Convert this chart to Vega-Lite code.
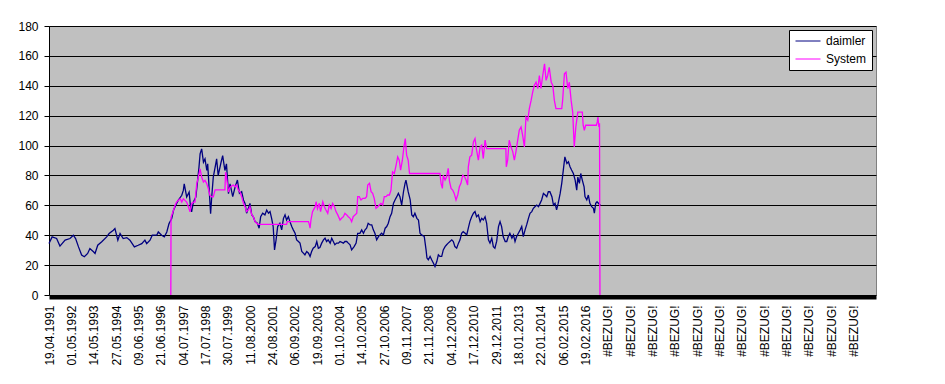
{
  "$schema": "https://vega.github.io/schema/vega-lite/v6.json",
  "width": 827,
  "height": 269,
  "autosize": {"type": "none"},
  "padding": {"left": 49, "top": 26, "right": 69, "bottom": 89},
  "background": "white",
  "config": {
    "view": {"fill": "#C0C0C0", "stroke": "#808080", "strokeWidth": 1},
    "font": "Liberation Sans",
    "axis": {"labelFont": "Liberation Sans", "labelFontSize": 12, "labelColor": "black", "domainColor": "black", "tickColor": "black", "gridColor": "black", "gridOpacity": 1, "domainOpacity": 1, "tickOpacity": 1}
  },
  "datasets": {
    "d": [
      {"s":"daimler","t":0,"v":34.4},{"s":"daimler","t":0.14,"v":38.9},{"s":"daimler","t":0.34,"v":37.8},{"s":"daimler","t":0.49,"v":32.7},{"s":"daimler","t":0.72,"v":36.7},{"s":"daimler","t":0.94,"v":37.8},{"s":"daimler","t":1.09,"v":40},{"s":"daimler","t":1.19,"v":37.8},{"s":"daimler","t":1.32,"v":32.2},{"s":"daimler","t":1.46,"v":26.7},{"s":"daimler","t":1.58,"v":25.6},{"s":"daimler","t":1.73,"v":27.8},{"s":"daimler","t":1.83,"v":31.1},{"s":"daimler","t":1.99,"v":28.9},{"s":"daimler","t":2.06,"v":27.8},{"s":"daimler","t":2.18,"v":33.3},{"s":"daimler","t":2.36,"v":35.6},{"s":"daimler","t":2.58,"v":38.9},{"s":"daimler","t":2.69,"v":41.1},{"s":"daimler","t":2.88,"v":43.3},{"s":"daimler","t":2.95,"v":44.4},{"s":"daimler","t":3.08,"v":36.7},{"s":"daimler","t":3.18,"v":41.1},{"s":"daimler","t":3.32,"v":37.8},{"s":"daimler","t":3.48,"v":38.4},{"s":"daimler","t":3.62,"v":36.7},{"s":"daimler","t":3.82,"v":32.2},{"s":"daimler","t":3.99,"v":33.3},{"s":"daimler","t":4.15,"v":34.4},{"s":"daimler","t":4.29,"v":36.7},{"s":"daimler","t":4.37,"v":34.4},{"s":"daimler","t":4.52,"v":36.7},{"s":"daimler","t":4.62,"v":40},{"s":"daimler","t":4.82,"v":40},{"s":"daimler","t":4.89,"v":42.2},{"s":"daimler","t":5.04,"v":40},{"s":"daimler","t":5.16,"v":38.9},{"s":"daimler","t":5.27,"v":42.2},{"s":"daimler","t":5.37,"v":47.8},{"s":"daimler","t":5.49,"v":51.1},{"s":"daimler","t":5.57,"v":56.7},{"s":"daimler","t":5.67,"v":60},{"s":"daimler","t":5.78,"v":63.3},{"s":"daimler","t":5.94,"v":66.7},{"s":"daimler","t":6.01,"v":70},{"s":"daimler","t":6.05,"v":74.4},{"s":"daimler","t":6.16,"v":65.6},{"s":"daimler","t":6.27,"v":68.9},{"s":"daimler","t":6.34,"v":57.8},{"s":"daimler","t":6.38,"v":55.6},{"s":"daimler","t":6.46,"v":62.2},{"s":"daimler","t":6.57,"v":65.6},{"s":"daimler","t":6.65,"v":76.7},{"s":"daimler","t":6.71,"v":85.6},{"s":"daimler","t":6.76,"v":94.4},{"s":"daimler","t":6.83,"v":97.8},{"s":"daimler","t":6.91,"v":88.9},{"s":"daimler","t":6.98,"v":91.1},{"s":"daimler","t":7.06,"v":83.3},{"s":"daimler","t":7.10,"v":87.8},{"s":"daimler","t":7.16,"v":72.2},{"s":"daimler","t":7.23,"v":54.4},{"s":"daimler","t":7.28,"v":65.6},{"s":"daimler","t":7.35,"v":78.9},{"s":"daimler","t":7.46,"v":87.8},{"s":"daimler","t":7.50,"v":91.1},{"s":"daimler","t":7.57,"v":80},{"s":"daimler","t":7.70,"v":88.9},{"s":"daimler","t":7.77,"v":93.3},{"s":"daimler","t":7.87,"v":83.3},{"s":"daimler","t":7.94,"v":87.8},{"s":"daimler","t":8.03,"v":67.8},{"s":"daimler","t":8.10,"v":74.4},{"s":"daimler","t":8.22,"v":65.8},{"s":"daimler","t":8.33,"v":72.4},{"s":"daimler","t":8.43,"v":76.9},{"s":"daimler","t":8.52,"v":68},{"s":"daimler","t":8.62,"v":69.1},{"s":"daimler","t":8.70,"v":63.6},{"s":"daimler","t":8.77,"v":61.3},{"s":"daimler","t":8.84,"v":54.7},{"s":"daimler","t":8.92,"v":58},{"s":"daimler","t":8.99,"v":61.3},{"s":"daimler","t":9.07,"v":53.6},{"s":"daimler","t":9.14,"v":52.4},{"s":"daimler","t":9.22,"v":49.1},{"s":"daimler","t":9.32,"v":48},{"s":"daimler","t":9.40,"v":44.7},{"s":"daimler","t":9.47,"v":52.4},{"s":"daimler","t":9.56,"v":54.7},{"s":"daimler","t":9.66,"v":53.6},{"s":"daimler","t":9.74,"v":56.9},{"s":"daimler","t":9.82,"v":54.7},{"s":"daimler","t":9.89,"v":55.8},{"s":"daimler","t":9.96,"v":51.3},{"s":"daimler","t":10.03,"v":45.8},{"s":"daimler","t":10.09,"v":30.2},{"s":"daimler","t":10.16,"v":36.9},{"s":"daimler","t":10.23,"v":45.8},{"s":"daimler","t":10.33,"v":48},{"s":"daimler","t":10.41,"v":43.6},{"s":"daimler","t":10.49,"v":51.3},{"s":"daimler","t":10.56,"v":53.6},{"s":"daimler","t":10.63,"v":50.2},{"s":"daimler","t":10.71,"v":52.4},{"s":"daimler","t":10.78,"v":49.1},{"s":"daimler","t":10.86,"v":45.8},{"s":"daimler","t":10.93,"v":43.6},{"s":"daimler","t":11.01,"v":41.3},{"s":"daimler","t":11.08,"v":36.9},{"s":"daimler","t":11.16,"v":35.8},{"s":"daimler","t":11.23,"v":34.7},{"s":"daimler","t":11.31,"v":29.1},{"s":"daimler","t":11.38,"v":28},{"s":"daimler","t":11.45,"v":26.9},{"s":"daimler","t":11.53,"v":29.1},{"s":"daimler","t":11.61,"v":28},{"s":"daimler","t":11.68,"v":25.8},{"s":"daimler","t":11.75,"v":29.1},{"s":"daimler","t":11.82,"v":31.3},{"s":"daimler","t":11.91,"v":32.4},{"s":"daimler","t":11.98,"v":35.8},{"s":"daimler","t":12.05,"v":31.3},{"s":"daimler","t":12.12,"v":31.8},{"s":"daimler","t":12.20,"v":34.7},{"s":"daimler","t":12.28,"v":36.9},{"s":"daimler","t":12.35,"v":38},{"s":"daimler","t":12.42,"v":35.8},{"s":"daimler","t":12.49,"v":36.9},{"s":"daimler","t":12.58,"v":34.7},{"s":"daimler","t":12.65,"v":38},{"s":"daimler","t":12.72,"v":35.8},{"s":"daimler","t":12.79,"v":33.6},{"s":"daimler","t":12.87,"v":34.7},{"s":"daimler","t":12.95,"v":34.7},{"s":"daimler","t":13.02,"v":35.8},{"s":"daimler","t":13.17,"v":34.7},{"s":"daimler","t":13.24,"v":35.8},{"s":"daimler","t":13.32,"v":35.8},{"s":"daimler","t":13.39,"v":34.7},{"s":"daimler","t":13.47,"v":33.6},{"s":"daimler","t":13.54,"v":30.2},{"s":"daimler","t":13.65,"v":32.4},{"s":"daimler","t":13.74,"v":34.7},{"s":"daimler","t":13.81,"v":41.3},{"s":"daimler","t":13.91,"v":41.3},{"s":"daimler","t":13.99,"v":43.6},{"s":"daimler","t":14.07,"v":41.3},{"s":"daimler","t":14.14,"v":43.6},{"s":"daimler","t":14.21,"v":44.7},{"s":"daimler","t":14.28,"v":48},{"s":"daimler","t":14.37,"v":46.9},{"s":"daimler","t":14.44,"v":46.9},{"s":"daimler","t":14.51,"v":43.6},{"s":"daimler","t":14.58,"v":41.3},{"s":"daimler","t":14.66,"v":36.9},{"s":"daimler","t":14.74,"v":39.1},{"s":"daimler","t":14.81,"v":40.2},{"s":"daimler","t":14.88,"v":41.3},{"s":"daimler","t":14.96,"v":40.2},{"s":"daimler","t":15.04,"v":44.7},{"s":"daimler","t":15.11,"v":45.8},{"s":"daimler","t":15.18,"v":48},{"s":"daimler","t":15.26,"v":52.4},{"s":"daimler","t":15.33,"v":54.7},{"s":"daimler","t":15.41,"v":61.3},{"s":"daimler","t":15.48,"v":63.6},{"s":"daimler","t":15.56,"v":65.8},{"s":"daimler","t":15.63,"v":68},{"s":"daimler","t":15.70,"v":65.8},{"s":"daimler","t":15.78,"v":60.2},{"s":"daimler","t":15.86,"v":69.1},{"s":"daimler","t":15.93,"v":74.7},{"s":"daimler","t":15.97,"v":76.9},{"s":"daimler","t":16.03,"v":72.4},{"s":"daimler","t":16.07,"v":69.1},{"s":"daimler","t":16.16,"v":63.6},{"s":"daimler","t":16.23,"v":53.6},{"s":"daimler","t":16.30,"v":52.4},{"s":"daimler","t":16.37,"v":54.7},{"s":"daimler","t":16.46,"v":51.3},{"s":"daimler","t":16.53,"v":50.2},{"s":"daimler","t":16.60,"v":41.3},{"s":"daimler","t":16.67,"v":40.2},{"s":"daimler","t":16.79,"v":39.1},{"s":"daimler","t":16.87,"v":30.2},{"s":"daimler","t":16.91,"v":24.7},{"s":"daimler","t":16.97,"v":23.6},{"s":"daimler","t":17.05,"v":25.8},{"s":"daimler","t":17.12,"v":23.6},{"s":"daimler","t":17.20,"v":21.3},{"s":"daimler","t":17.27,"v":19.1},{"s":"daimler","t":17.35,"v":22.4},{"s":"daimler","t":17.42,"v":26.9},{"s":"daimler","t":17.49,"v":25.8},{"s":"daimler","t":17.57,"v":25.8},{"s":"daimler","t":17.64,"v":30.2},{"s":"daimler","t":17.72,"v":32.4},{"s":"daimler","t":17.79,"v":33.6},{"s":"daimler","t":17.86,"v":34.7},{"s":"daimler","t":17.94,"v":35.8},{"s":"daimler","t":18.02,"v":36.9},{"s":"daimler","t":18.09,"v":35.8},{"s":"daimler","t":18.16,"v":32.4},{"s":"daimler","t":18.24,"v":31.3},{"s":"daimler","t":18.32,"v":34.7},{"s":"daimler","t":18.39,"v":36.9},{"s":"daimler","t":18.46,"v":41.3},{"s":"daimler","t":18.53,"v":42.4},{"s":"daimler","t":18.62,"v":41.3},{"s":"daimler","t":18.69,"v":40.2},{"s":"daimler","t":18.76,"v":44.7},{"s":"daimler","t":18.83,"v":49.1},{"s":"daimler","t":18.91,"v":52.4},{"s":"daimler","t":18.99,"v":54.7},{"s":"daimler","t":19.06,"v":55.8},{"s":"daimler","t":19.13,"v":52.4},{"s":"daimler","t":19.21,"v":53.6},{"s":"daimler","t":19.29,"v":49.1},{"s":"daimler","t":19.36,"v":51.3},{"s":"daimler","t":19.43,"v":50.2},{"s":"daimler","t":19.51,"v":52.4},{"s":"daimler","t":19.58,"v":48},{"s":"daimler","t":19.66,"v":36.9},{"s":"daimler","t":19.73,"v":34.7},{"s":"daimler","t":19.81,"v":38},{"s":"daimler","t":19.88,"v":32.4},{"s":"daimler","t":19.95,"v":31.3},{"s":"daimler","t":20.03,"v":36},{"s":"daimler","t":20.11,"v":45.8},{"s":"daimler","t":20.18,"v":49.1},{"s":"daimler","t":20.25,"v":45.8},{"s":"daimler","t":20.32,"v":39.1},{"s":"daimler","t":20.41,"v":35.8},{"s":"daimler","t":20.48,"v":35.8},{"s":"daimler","t":20.55,"v":39.1},{"s":"daimler","t":20.62,"v":41.3},{"s":"daimler","t":20.71,"v":38},{"s":"daimler","t":20.78,"v":40.2},{"s":"daimler","t":20.85,"v":35.8},{"s":"daimler","t":20.92,"v":39.1},{"s":"daimler","t":21.00,"v":41.3},{"s":"daimler","t":21.08,"v":43.6},{"s":"daimler","t":21.15,"v":45.8},{"s":"daimler","t":21.22,"v":39.1},{"s":"daimler","t":21.30,"v":43.6},{"s":"daimler","t":21.37,"v":46.9},{"s":"daimler","t":21.45,"v":51.3},{"s":"daimler","t":21.52,"v":54.7},{"s":"daimler","t":21.60,"v":55.8},{"s":"daimler","t":21.67,"v":58},{"s":"daimler","t":21.74,"v":59.1},{"s":"daimler","t":21.82,"v":60.2},{"s":"daimler","t":21.90,"v":59.1},{"s":"daimler","t":21.97,"v":61.3},{"s":"daimler","t":22.04,"v":63.6},{"s":"daimler","t":22.12,"v":68},{"s":"daimler","t":22.20,"v":66.9},{"s":"daimler","t":22.27,"v":65.8},{"s":"daimler","t":22.34,"v":69.1},{"s":"daimler","t":22.41,"v":69.1},{"s":"daimler","t":22.50,"v":65.8},{"s":"daimler","t":22.57,"v":60.2},{"s":"daimler","t":22.64,"v":61.3},{"s":"daimler","t":22.71,"v":56.9},{"s":"daimler","t":22.78,"v":61.3},{"s":"daimler","t":22.87,"v":68},{"s":"daimler","t":22.94,"v":74.7},{"s":"daimler","t":23.01,"v":83.6},{"s":"daimler","t":23.08,"v":92.4},{"s":"daimler","t":23.17,"v":88},{"s":"daimler","t":23.24,"v":89.1},{"s":"daimler","t":23.31,"v":85.8},{"s":"daimler","t":23.38,"v":83.6},{"s":"daimler","t":23.46,"v":81.3},{"s":"daimler","t":23.54,"v":76.9},{"s":"daimler","t":23.61,"v":70.2},{"s":"daimler","t":23.66,"v":78.9},{"s":"daimler","t":23.73,"v":74.7},{"s":"daimler","t":23.79,"v":81.3},{"s":"daimler","t":23.86,"v":76.9},{"s":"daimler","t":23.94,"v":72.4},{"s":"daimler","t":23.98,"v":65.8},{"s":"daimler","t":24.06,"v":63.6},{"s":"daimler","t":24.13,"v":66.9},{"s":"daimler","t":24.20,"v":61.3},{"s":"daimler","t":24.28,"v":59.1},{"s":"daimler","t":24.36,"v":58},{"s":"daimler","t":24.40,"v":54.7},{"s":"daimler","t":24.46,"v":61.3},{"s":"daimler","t":24.52,"v":62.4},{"s":"daimler","t":24.61,"v":60.9},{"s":"daimler","t":24.67,"v":60.2},
      {"s":"System","t":5.45,"v":0},{"s":"System","t":5.46,"v":52},{"s":"System","t":5.57,"v":56.7},{"s":"System","t":5.64,"v":60},{"s":"System","t":5.71,"v":62.2},{"s":"System","t":5.78,"v":63.3},{"s":"System","t":5.87,"v":64.4},{"s":"System","t":5.94,"v":62.2},{"s":"System","t":6.01,"v":64.4},{"s":"System","t":6.08,"v":63.3},{"s":"System","t":6.16,"v":62.2},{"s":"System","t":6.24,"v":58.9},{"s":"System","t":6.31,"v":55.6},{"s":"System","t":6.38,"v":61.1},{"s":"System","t":6.46,"v":62.2},{"s":"System","t":6.53,"v":62.2},{"s":"System","t":6.61,"v":74.4},{"s":"System","t":6.68,"v":78.9},{"s":"System","t":6.76,"v":84.4},{"s":"System","t":6.83,"v":78.9},{"s":"System","t":6.91,"v":75.6},{"s":"System","t":6.98,"v":76.7},{"s":"System","t":7.06,"v":74.4},{"s":"System","t":7.13,"v":71.1},{"s":"System","t":7.20,"v":66.7},{"s":"System","t":7.28,"v":65.6},{"s":"System","t":7.35,"v":65.6},{"s":"System","t":7.43,"v":70.4},{"s":"System","t":7.87,"v":70.4},{"s":"System","t":7.90,"v":82.2},{"s":"System","t":7.94,"v":78.9},{"s":"System","t":8.03,"v":68.9},{"s":"System","t":8.10,"v":72.2},{"s":"System","t":8.24,"v":73.6},{"s":"System","t":8.33,"v":72.4},{"s":"System","t":8.40,"v":73.6},{"s":"System","t":8.47,"v":70.2},{"s":"System","t":8.54,"v":69.1},{"s":"System","t":8.62,"v":65.8},{"s":"System","t":8.70,"v":61.3},{"s":"System","t":8.77,"v":59.1},{"s":"System","t":8.84,"v":55.8},{"s":"System","t":8.92,"v":56.9},{"s":"System","t":8.99,"v":59.1},{"s":"System","t":9.07,"v":53.6},{"s":"System","t":9.14,"v":52.4},{"s":"System","t":9.22,"v":49.1},{"s":"System","t":9.29,"v":48},{"s":"System","t":9.36,"v":47.3},{"s":"System","t":10.63,"v":47.3},{"s":"System","t":10.66,"v":49.1},{"s":"System","t":11.61,"v":49.1},{"s":"System","t":11.65,"v":46.9},{"s":"System","t":11.68,"v":44.7},{"s":"System","t":11.72,"v":50.2},{"s":"System","t":11.79,"v":55.8},{"s":"System","t":11.91,"v":59.1},{"s":"System","t":11.95,"v":62.4},{"s":"System","t":12.01,"v":57.8},{"s":"System","t":12.09,"v":61.3},{"s":"System","t":12.15,"v":55.8},{"s":"System","t":12.25,"v":62.4},{"s":"System","t":12.32,"v":59.1},{"s":"System","t":12.39,"v":56.9},{"s":"System","t":12.47,"v":54.7},{"s":"System","t":12.54,"v":60.2},{"s":"System","t":12.62,"v":57.8},{"s":"System","t":12.69,"v":61.3},{"s":"System","t":12.77,"v":59.1},{"s":"System","t":12.84,"v":55.8},{"s":"System","t":12.92,"v":53.6},{"s":"System","t":13.02,"v":50.2},{"s":"System","t":13.09,"v":51.3},{"s":"System","t":13.17,"v":52.4},{"s":"System","t":13.24,"v":54.7},{"s":"System","t":13.32,"v":53.6},{"s":"System","t":13.39,"v":52.4},{"s":"System","t":13.47,"v":51.3},{"s":"System","t":13.54,"v":49.1},{"s":"System","t":13.61,"v":52.4},{"s":"System","t":13.69,"v":53.6},{"s":"System","t":13.77,"v":54.7},{"s":"System","t":13.81,"v":65.8},{"s":"System","t":13.88,"v":65.8},{"s":"System","t":13.96,"v":63.6},{"s":"System","t":14.04,"v":64.7},{"s":"System","t":14.14,"v":64.7},{"s":"System","t":14.21,"v":65.8},{"s":"System","t":14.26,"v":73.6},{"s":"System","t":14.34,"v":74.7},{"s":"System","t":14.41,"v":69.1},{"s":"System","t":14.48,"v":68},{"s":"System","t":14.55,"v":64.7},{"s":"System","t":14.63,"v":58},{"s":"System","t":14.71,"v":59.1},{"s":"System","t":14.78,"v":60.2},{"s":"System","t":14.85,"v":61.3},{"s":"System","t":14.93,"v":60.2},{"s":"System","t":15.00,"v":65.8},{"s":"System","t":15.08,"v":65.8},{"s":"System","t":15.15,"v":66.9},{"s":"System","t":15.23,"v":66.9},{"s":"System","t":15.30,"v":70.2},{"s":"System","t":15.37,"v":82.4},{"s":"System","t":15.45,"v":81.3},{"s":"System","t":15.53,"v":86.9},{"s":"System","t":15.60,"v":92.4},{"s":"System","t":15.67,"v":90.2},{"s":"System","t":15.73,"v":83.6},{"s":"System","t":15.81,"v":90.2},{"s":"System","t":15.88,"v":99.1},{"s":"System","t":15.94,"v":104.7},{"s":"System","t":16.00,"v":93.6},{"s":"System","t":16.07,"v":90.2},{"s":"System","t":16.13,"v":81.3},{"s":"System","t":17.49,"v":81.3},{"s":"System","t":17.54,"v":74.7},{"s":"System","t":17.60,"v":71.3},{"s":"System","t":17.64,"v":80.2},{"s":"System","t":17.72,"v":76.9},{"s":"System","t":17.79,"v":79.1},{"s":"System","t":17.86,"v":84.7},{"s":"System","t":17.92,"v":75.8},{"s":"System","t":17.99,"v":71.3},{"s":"System","t":18.06,"v":70.2},{"s":"System","t":18.13,"v":68},{"s":"System","t":18.21,"v":63.6},{"s":"System","t":18.29,"v":67.1},{"s":"System","t":18.36,"v":72.4},{"s":"System","t":18.43,"v":74.7},{"s":"System","t":18.51,"v":80.2},{"s":"System","t":18.59,"v":79.1},{"s":"System","t":18.66,"v":76.9},{"s":"System","t":18.73,"v":73.6},{"s":"System","t":18.76,"v":85.8},{"s":"System","t":18.83,"v":92.4},{"s":"System","t":18.91,"v":93.6},{"s":"System","t":18.99,"v":102.4},{"s":"System","t":19.06,"v":104.7},{"s":"System","t":19.13,"v":96.9},{"s":"System","t":19.21,"v":90.2},{"s":"System","t":19.29,"v":99.1},{"s":"System","t":19.36,"v":100.2},{"s":"System","t":19.43,"v":91.3},{"s":"System","t":19.51,"v":103.6},{"s":"System","t":19.58,"v":98},{"s":"System","t":20.44,"v":98},{"s":"System","t":20.46,"v":85.8},{"s":"System","t":20.52,"v":90.2},{"s":"System","t":20.59,"v":103.6},{"s":"System","t":20.67,"v":99.1},{"s":"System","t":20.75,"v":95.8},{"s":"System","t":20.82,"v":90.2},{"s":"System","t":20.89,"v":95.8},{"s":"System","t":20.97,"v":103.6},{"s":"System","t":21.04,"v":110.2},{"s":"System","t":21.12,"v":112.4},{"s":"System","t":21.19,"v":106.9},{"s":"System","t":21.27,"v":99.1},{"s":"System","t":21.34,"v":119.1},{"s":"System","t":21.42,"v":116.9},{"s":"System","t":21.49,"v":124.7},{"s":"System","t":21.57,"v":130.2},{"s":"System","t":21.64,"v":135.8},{"s":"System","t":21.71,"v":140.2},{"s":"System","t":21.79,"v":142.4},{"s":"System","t":21.87,"v":138.2},{"s":"System","t":21.94,"v":146.9},{"s":"System","t":22.01,"v":138.2},{"s":"System","t":22.08,"v":145.8},{"s":"System","t":22.17,"v":154.7},{"s":"System","t":22.24,"v":143.6},{"s":"System","t":22.31,"v":146.9},{"s":"System","t":22.38,"v":152.4},{"s":"System","t":22.47,"v":142.4},{"s":"System","t":22.54,"v":140.2},{"s":"System","t":22.61,"v":130.2},{"s":"System","t":22.68,"v":124.7},{"s":"System","t":22.94,"v":124.7},{"s":"System","t":22.98,"v":130.2},{"s":"System","t":23.06,"v":148},{"s":"System","t":23.13,"v":149.1},{"s":"System","t":23.21,"v":138.2},{"s":"System","t":23.28,"v":142.4},{"s":"System","t":23.36,"v":130.2},{"s":"System","t":23.43,"v":122.4},{"s":"System","t":23.50,"v":99.1},{"s":"System","t":23.57,"v":112.4},{"s":"System","t":23.61,"v":116.9},{"s":"System","t":23.66,"v":122.4},{"s":"System","t":23.86,"v":122.4},{"s":"System","t":23.90,"v":113.6},{"s":"System","t":23.95,"v":110.2},{"s":"System","t":24.01,"v":113.6},{"s":"System","t":24.49,"v":113.6},{"s":"System","t":24.53,"v":115.8},{"s":"System","t":24.56,"v":119.1},{"s":"System","t":24.60,"v":112.4},{"s":"System","t":24.63,"v":115},{"s":"System","t":24.65,"v":0}
    ]
  },
  "data": {"name": "d"},
  "mark": {"type": "line", "strokeWidth": 1.3, "interpolate": "linear"},
  "encoding": {
    "x": {
      "field": "t", "type": "quantitative",
      "scale": {"domain": [0, 37], "nice": false, "zero": false},
      "axis": {
        "title": null,
        "orient": "bottom",
        "values": [0,1,2,3,4,5,6,7,8,9,10,11,12,13,14,15,16,17,18,19,20,21,22,23,24,25,26,27,28,29,30,31,32,33,34,35,36],
        "labelExpr": "['19.04.1991','01.05.1992','14.05.1993','27.05.1994','09.06.1995','21.06.1996','04.07.1997','17.07.1998','30.07.1999','11.08.2000','24.08.2001','06.09.2002','19.09.2003','01.10.2004','14.10.2005','27.10.2006','09.11.2007','21.11.2008','04.12.2009','17.12.2010','29.12.2011','18.01.2013','22.01.2014','06.02.2015','19.02.2016','#BEZUG!','#BEZUG!','#BEZUG!','#BEZUG!','#BEZUG!','#BEZUG!','#BEZUG!','#BEZUG!','#BEZUG!','#BEZUG!','#BEZUG!','#BEZUG!'][round(datum.value)]",
        "labelAngle": -90,
        "labelAlign": "right",
        "labelBaseline": "middle",
        "labelPadding": 8,
        "labelOverlap": false,
        "labelFlush": false,
        "grid": false,
        "ticks": false,
        "tickSize": 0,
        "domainWidth": 4,
        "offset": 2
      }
    },
    "y": {
      "field": "v", "type": "quantitative",
      "scale": {"domain": [0, 180], "nice": false},
      "axis": {
        "title": null,
        "values": [0,20,40,60,80,100,120,140,160,180],
        "grid": true,
        "gridWidth": 1,
        "tickSize": 5,
        "labelPadding": 6,
        "domainWidth": 1,
        "labelFlush": false
      }
    },
    "color": {
      "field": "s", "type": "nominal",
      "scale": {"domain": ["daimler", "System"], "range": ["#000080", "#FF00FF"]},
      "legend": {
        "title": null,
        "orient": "none",
        "legendX": 740,
        "legendY": 4,
        "fillColor": "white",
        "strokeColor": "black",
        "padding": 5,
        "rowPadding": 6,
        "symbolType": "M-2.5,0H2.5",
        "symbolSize": 100,
        "symbolStrokeWidth": 1,
        "symbolOffset": 8,
        "labelOffset": 12,
        "labelFont": "Liberation Sans",
        "labelFontSize": 12,
        "labelColor": "black"
      }
    },
    "order": {"field": "t", "type": "quantitative"}
  }
}
